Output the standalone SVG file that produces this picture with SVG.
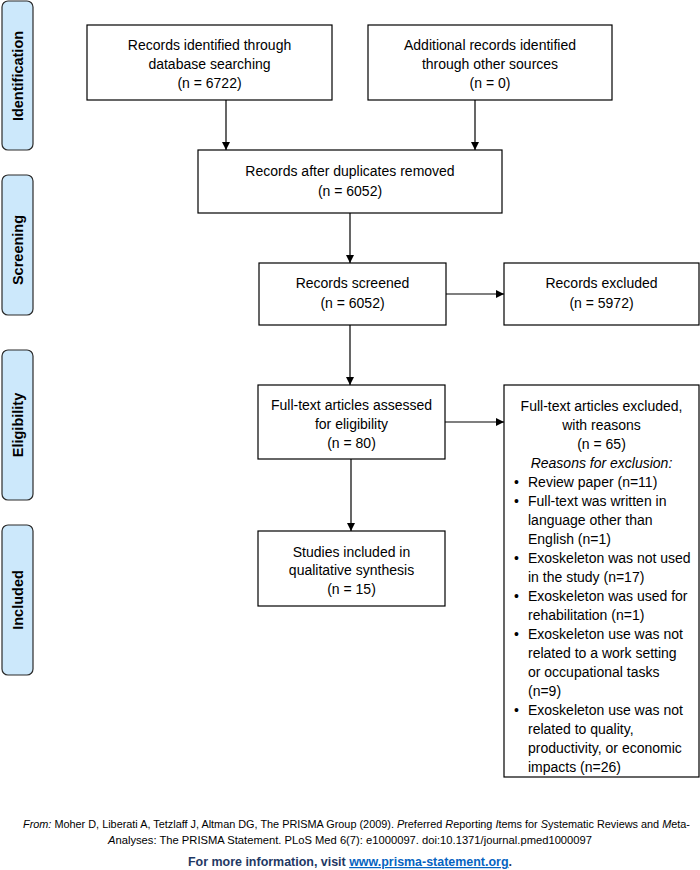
<svg xmlns="http://www.w3.org/2000/svg" width="700" height="870" viewBox="0 0 700 870">
<defs>
<marker id="ah" viewBox="0 0 10 10" refX="10" refY="5" markerWidth="8" markerHeight="8" markerUnits="userSpaceOnUse" orient="auto">
<path d="M0,0 L10,5 L0,10 z" fill="#000"/>
</marker>
<style>
.box{fill:#fff;stroke:#000;stroke-width:1.2}
.side{fill:#cce8fb;stroke:#2b2b2b;stroke-width:1.2}
.t{font-family:"Liberation Sans",Arial,sans-serif;font-size:14px;fill:#000;text-anchor:middle}
.l{font-family:"Liberation Sans",Arial,sans-serif;font-size:14px;fill:#000}
.s{font-family:"Liberation Sans",Arial,sans-serif;font-size:14.5px;font-weight:bold;fill:#000;text-anchor:middle;dominant-baseline:central}
.c{stroke:#000;stroke-width:1.2;fill:none;marker-end:url(#ah)}
.f{font-family:"Liberation Sans",Arial,sans-serif;font-size:11px;fill:#000}
</style>
</defs>
<rect width="700" height="870" fill="#fff"/>
<g id="side-identification"><rect class="side" x="2" y="1" width="31" height="149" rx="6"/><text class="s" transform="translate(18,76) rotate(-90)">Identification</text></g>
<g id="side-screening"><rect class="side" x="2" y="175" width="31" height="140" rx="6"/><text class="s" transform="translate(18,250) rotate(-90)">Screening</text></g>
<g id="side-eligibility"><rect class="side" x="2" y="350" width="31" height="150" rx="6"/><text class="s" transform="translate(18,425) rotate(-90)">Eligibility</text></g>
<g id="side-included"><rect class="side" x="2" y="525" width="31" height="150" rx="6"/><text class="s" transform="translate(18,600) rotate(-90)">Included</text></g>

<g id="n-db"><rect class="box" x="87" y="25" width="245" height="75"/>
<text class="t" x="209.5" y="50">Records identified through</text>
<text class="t" x="209.5" y="69">database searching</text>
<text class="t" x="209.5" y="88">(n = 6722)</text></g>
<g id="n-other"><rect class="box" x="368" y="25" width="244" height="75"/>
<text class="t" x="490" y="50">Additional records identified</text>
<text class="t" x="490" y="69">through other sources</text>
<text class="t" x="490" y="88">(n = 0)</text></g>
<g id="n-dup"><rect class="box" x="198" y="150" width="304" height="63"/>
<text class="t" x="350" y="176">Records after duplicates removed</text>
<text class="t" x="350" y="196">(n = 6052)</text></g>
<g id="n-screened"><rect class="box" x="259" y="263" width="187" height="62"/>
<text class="t" x="352.5" y="288">Records screened</text>
<text class="t" x="352.5" y="308">(n = 6052)</text></g>
<g id="n-excluded"><rect class="box" x="504" y="263" width="195" height="62"/>
<text class="t" x="601.5" y="288">Records excluded</text>
<text class="t" x="601.5" y="308">(n = 5972)</text></g>
<g id="n-fulltext"><rect class="box" x="258" y="385" width="187" height="74"/>
<text class="t" x="351.5" y="410">Full-text articles assessed</text>
<text class="t" x="351.5" y="429">for eligibility</text>
<text class="t" x="351.5" y="448">(n = 80)</text></g>
<g id="n-included"><rect class="box" x="258" y="531" width="187" height="75"/>
<text class="t" x="351.5" y="557">Studies included in</text>
<text class="t" x="351.5" y="575">qualitative synthesis</text>
<text class="t" x="351.5" y="594">(n = 15)</text></g>
<g id="n-ftexcluded"><rect class="box" x="504" y="385" width="195" height="392"/>
<text class="t" x="601.5" y="411">Full-text articles excluded,</text>
<text class="t" x="601.5" y="430">with reasons</text>
<text class="t" x="601.5" y="449">(n = 65)</text>
<text class="t" x="601.5" y="468" font-style="italic">Reasons for exclusion:</text>
<text class="l" x="514" y="487">•</text><text class="l" x="528" y="487">Review paper (n=11)</text>
<text class="l" x="514" y="506">•</text><text class="l" x="528" y="506">Full-text was written in</text>
<text class="l" x="528" y="525">language other than</text>
<text class="l" x="528" y="544">English (n=1)</text>
<text class="l" x="514" y="563">•</text><text class="l" x="528" y="563">Exoskeleton was not used</text>
<text class="l" x="528" y="582">in the study (n=17)</text>
<text class="l" x="514" y="601">•</text><text class="l" x="528" y="601">Exoskeleton was used for</text>
<text class="l" x="528" y="620">rehabilitation (n=1)</text>
<text class="l" x="514" y="639">•</text><text class="l" x="528" y="639">Exoskeleton use was not</text>
<text class="l" x="528" y="658">related to a work setting</text>
<text class="l" x="528" y="677">or occupational tasks</text>
<text class="l" x="528" y="696">(n=9)</text>
<text class="l" x="514" y="715">•</text><text class="l" x="528" y="715">Exoskeleton use was not</text>
<text class="l" x="528" y="734">related to quality,</text>
<text class="l" x="528" y="753">productivity, or economic</text>
<text class="l" x="528" y="772">impacts (n=26)</text></g>

<g id="connectors">
<line class="c" x1="226" y1="100" x2="226" y2="150"/>
<line class="c" x1="475" y1="100" x2="475" y2="150"/>
<line class="c" x1="350" y1="213" x2="350" y2="263"/>
<line class="c" x1="446" y1="294" x2="504" y2="294"/>
<line class="c" x1="350" y1="325" x2="350" y2="385"/>
<line class="c" x1="445" y1="422" x2="504" y2="422"/>
<line class="c" x1="351" y1="459" x2="351" y2="531"/>
</g>

<g id="footer">
<text class="f" x="23" y="828" textLength="667" lengthAdjust="spacingAndGlyphs"><tspan font-style="italic">From:</tspan>  Moher D, Liberati A, Tetzlaff J, Altman DG, The PRISMA Group (2009). <tspan font-style="italic">P</tspan>referred <tspan font-style="italic">R</tspan>eporting <tspan font-style="italic">I</tspan>tems for <tspan font-style="italic">S</tspan>ystematic Reviews and <tspan font-style="italic">M</tspan>eta-</text>
<text class="f" x="108" y="844" textLength="484" lengthAdjust="spacingAndGlyphs"><tspan font-style="italic">A</tspan>nalyses: The PRISMA Statement. PLoS Med 6(7): e1000097. doi:10.1371/journal.pmed1000097</text>
<text x="350" y="866" text-anchor="middle" font-family="Liberation Sans, Arial, sans-serif" font-size="12px" font-weight="bold" fill="#1f3864" textLength="324" lengthAdjust="spacingAndGlyphs">For more information, visit <tspan fill="#0563c1" text-decoration="underline">www.prisma-statement.org</tspan>.</text>
</g>
</svg>
